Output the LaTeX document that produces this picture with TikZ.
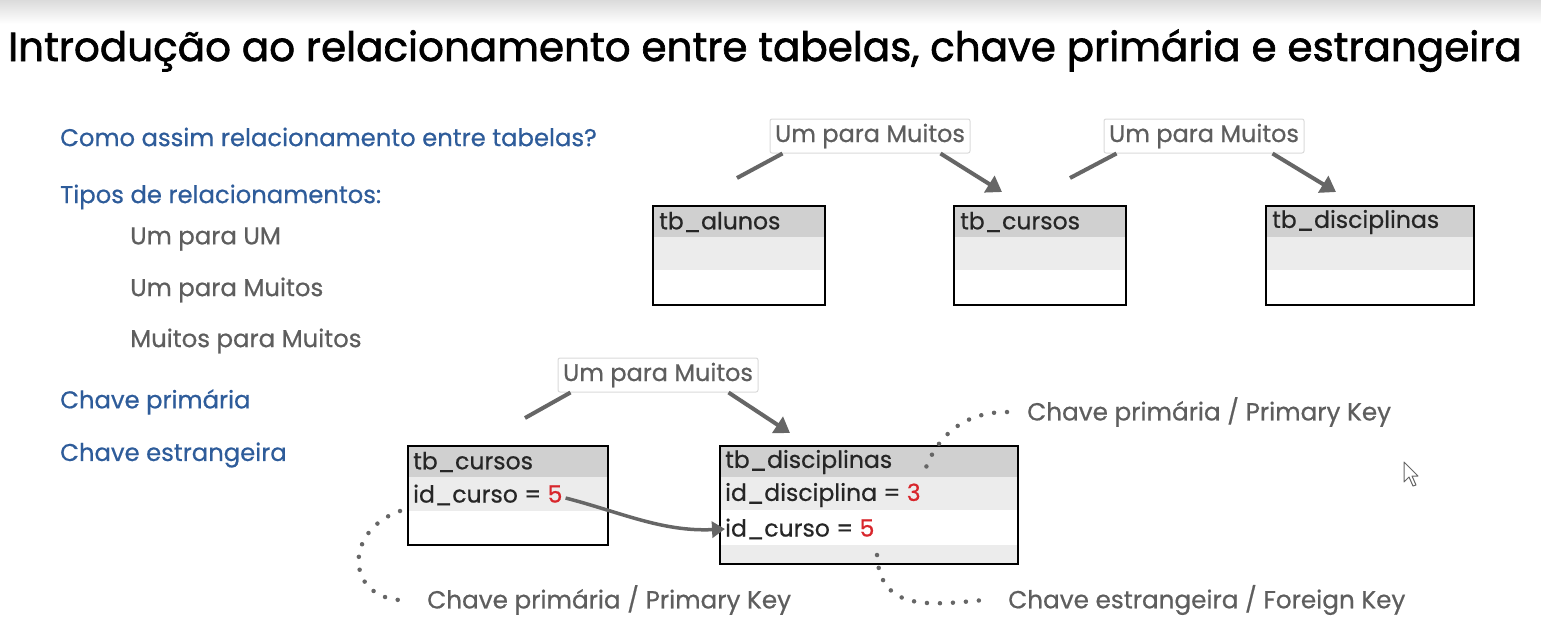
\documentclass[tikz,border=0pt]{standalone}
\usepackage{fontspec}
\setmainfont[FakeBold=0.6]{Poppins}
\newfontfamily\titlefont[FakeBold=1.6]{Poppins}
\usetikzlibrary{arrows.meta}
\definecolor{hdr}{HTML}{D0D0D0}
\definecolor{rowl}{HTML}{ECECEC}
\definecolor{blu}{HTML}{2E5C9A}
\definecolor{gry}{HTML}{5E5E5E}
\definecolor{conn}{HTML}{666666}
\definecolor{rd}{HTML}{D8262C}
\definecolor{lblborder}{HTML}{DADADA}
\tikzset{
  titletext/.style={anchor=base west,inner sep=0pt,font=\titlefont\fontsize{40.5}{44}\selectfont,text=black},
  bluetext/.style={anchor=west,inner sep=0pt,font=\fontsize{24.3}{27}\selectfont,text=blu},
  graytext/.style={anchor=west,inner sep=0pt,font=\fontsize{24.4}{27}\selectfont,text=gry},
  tbltext/.style={anchor=west,inner sep=0pt,font=\fontsize{23.6}{26}\selectfont,text=black!85},
  tblbox/.style={draw=black,line width=2.2pt,anchor=north west,inner sep=0pt},
  relabel/.style={draw=lblborder,fill=white,rounded corners=2pt,line width=1pt,inner sep=0pt,minimum width=200pt,minimum height=34pt,font=\fontsize{24}{27}\selectfont,text=gry},
  connline/.style={draw=conn,line width=4pt},
  connarrow/.style={draw=conn,line width=4pt,-{Triangle[length=15pt,width=19pt]}},
  dotline/.style={draw=conn,line width=4.5pt,line cap=round,dash pattern=on 0pt off 13pt},
  keytext/.style={anchor=west,inner sep=0pt,font=\fontsize{24.7}{27}\selectfont,text=gry},
}
\begin{document}
\begin{tikzpicture}[x=1pt,y=-1pt]
\useasboundingbox (0,0) rectangle (1541,641);
\shade[top color=black!14,bottom color=white] (0,0) rectangle (1541,24);
% title
\node[titletext] (title) at (8,61) {Introdução ao relacionamento entre tabelas, chave primária e estrangeira};
% left list
\node[bluetext] (l1) at (60,137) {Como assim relacionamento entre tabelas?};
\node[bluetext] (l2) at (60,197) {Tipos de relacionamentos:};
\node[graytext] (l3) at (130,239) {Um para UM};
\node[graytext] (l4) at (130,290) {Um para Muitos};
\node[graytext] (l5) at (130,341) {Muitos para Muitos};
\node[bluetext] (l6) at (60,402) {Chave primária};
\node[bluetext] (l7) at (60,455) {Chave estrangeira};
% top tables
\fill[hdr] (652,205) rectangle (824,237);
\fill[rowl] (652,237) rectangle (824,270);
\node[tblbox,minimum width=172pt,minimum height=99pt] (alunos) at (652,205) {};
\node[tbltext] (alunosT) at (659,222) {tb\_alunos};
\fill[hdr] (953,205) rectangle (1125,237);
\fill[rowl] (953,237) rectangle (1125,270);
\node[tblbox,minimum width=172pt,minimum height=99pt] (cursos) at (953,205) {};
\node[tbltext] (cursosT) at (960,222) {tb\_cursos};
\fill[hdr] (1265,205) rectangle (1473,237);
\fill[rowl] (1265,237) rectangle (1473,270);
\node[tblbox,minimum width=208pt,minimum height=99pt] (disc) at (1265,205) {};
\node[tbltext] (discT) at (1272,222) {tb\_disciplinas};
% top relation labels
\node[relabel] (r1) at (870,136) {Um para Muitos};
\node[relabel] (r2) at (1204,136) {Um para Muitos};
\coordinate (r1s) at (737,178);
\coordinate (r1e) at (1002,192);
\coordinate (r2s) at (1070,178);
\coordinate (r2e) at (1336,192);
\draw[connline] (r1s) -- ([xshift=13pt]r1.south west);
\draw[connarrow] ([xshift=-30pt]r1.south east) -- (r1e);
\draw[connline] (r2s) -- ([xshift=13pt]r2.south west);
\draw[connarrow] ([xshift=-32pt]r2.south east) -- (r2e);
% bottom tables
\fill[hdr] (407,445) rectangle (607,477);
\fill[rowl] (407,477) rectangle (607,511);
\node[tblbox,minimum width=200pt,minimum height=99pt] (bcursos) at (407,445) {};
\node[tbltext] (bcursosT) at (413,462) {tb\_cursos};
\node[tbltext] (bcursosK) at (413,495) {id\_curso = \textcolor{rd}{5}};
\fill[hdr] (719,445) rectangle (1017,477);
\fill[rowl] (719,477) rectangle (1017,510);
\fill[rowl] (719,545) rectangle (1017,563);
\node[tblbox,minimum width=298pt,minimum height=118pt] (bdisc) at (719,445) {};
\node[tbltext] (bdiscT) at (725,462) {tb\_disciplinas};
\node[tbltext] (bdiscK) at (725,495) {id\_disciplina = \textcolor{rd}{3}};
\node[tbltext] (bdiscF) at (725,529) {id\_curso = \textcolor{rd}{5}};
\node[relabel] (r3) at (658,375) {Um para Muitos};
\coordinate (r3s) at (525,418);
\coordinate (r3e) at (790,433);
\draw[connline] (r3s) -- ([xshift=13pt]r3.south west);
\draw[connarrow] ([xshift=-30pt]r3.south east) -- (r3e);
% foreign key arrow
\draw[draw=conn,line width=3.5pt,-{Triangle[length=13pt,width=16pt]}] ([xshift=3pt,yshift=-3pt]bcursosK.east) .. controls (620,512) and (662,532) .. (bdiscF.west);
% key labels and dotted pointers
\node[keytext] (pk1) at (427,600) {Chave primária / Primary Key};
\node[keytext] (pk2) at (1027,412) {Chave primária / Primary Key};
\node[keytext] (fk) at (1008,600) {Chave estrangeira / Foreign Key};
\coordinate (d1a) at (400,511);
\coordinate (d2a) at (924,473);
\coordinate (d3a) at (877,555);
\draw[dotline] (d1a) .. controls (345,530) and (345,595) .. ([xshift=-28pt]pk1.west);
\draw[dotline] ([xshift=-20pt]pk2.west) .. controls (960,412) and (935,440) .. (d2a);
\draw[dotline] (d3a) .. controls (880,612) and (930,605) .. ([xshift=-24pt]fk.west);
% mouse cursor
\draw[black!60,fill=white,line width=1pt,line join=round] (1404,462) -- (1404,482) -- (1409,477) -- (1413,486) -- (1416,485) -- (1412,476) -- (1418,476) -- cycle;
\end{tikzpicture}
\end{document}
